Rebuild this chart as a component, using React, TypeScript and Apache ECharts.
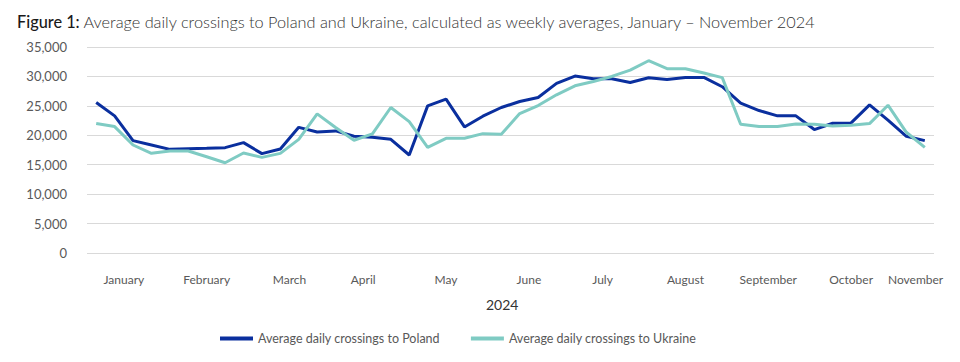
import React, { useEffect, useRef } from "react";
import * as echarts from "echarts";

const months = ["January", "February", "March", "April", "May", "June", "July", "August", "September", "October", "November"];
const weeksPerMonth = [4, 5, 4, 4, 5, 4, 4, 5, 4, 5, 2];

const poland = [
  25570, 23300, 19090, 18350, 17610, 17730, 17780, 17900, 18750, 16880,
  17670, 21350, 20570, 20740, 19830, 19660, 19320, 16650, 25000, 26140,
  21420, 23240, 24720, 25740, 26420, 28810, 30060, 29600, 29600, 28980,
  29770, 29490, 29830, 29830, 28250, 25450, 24200, 23300, 23300, 20970,
  22050, 22100, 25170, 22560, 19830, 19090,
];
const ukraine = [
  21990, 21480, 18350, 16930, 17330, 17330, 16360, 15340, 16990, 16250,
  16930, 19300, 23640, 21310, 19150, 20230, 24720, 22330, 17950, 19490,
  19490, 20280, 20170, 23690, 25060, 26880, 28410, 29150, 30000, 31080,
  32670, 31310, 31310, 30570, 29800, 21880, 21480, 21480, 21930, 21880,
  21590, 21700, 21990, 25110, 20510, 17950,
];
const weeks = poland.map((_, i) => "Week " + (i + 1));
const yearLabel = "2024";
const seriesNames = ["Average daily crossings to Poland", "Average daily crossings to Ukraine"];
const titleLead = "Figure 1:";
const titleRest = " Average daily crossings to Poland and Ukraine, calculated as weekly averages, January \u2013 November 2024";

// half-week boundary axis: month label centered on its group of weeks
const monthSlots: string[] = new Array(weeks.length * 2 + 1).fill("");
{
  let start = 0;
  months.forEach((m, i) => {
    const n = weeksPerMonth[i];
    monthSlots[2 * start + n] = m;
    start += n;
  });
}

const FONT = "Lato, 'Open Sans', sans-serif";

export default function App() {
  const ref = useRef<HTMLDivElement>(null);
  useEffect(() => {
    document.body.style.margin = "0";
    if (!ref.current) return;
    const chart = echarts.init(ref.current, null, { renderer: "svg" });
    chart.setOption({
      animation: false,
      backgroundColor: "#ffffff",
      textStyle: { fontFamily: FONT },
      title: {
        left: 12,
        top: 8,
        text: "{a|" + titleLead + "}{b|" + titleRest + "}",
        textStyle: {
          rich: {
            a: { fontFamily: FONT, fontSize: 16.3, fontWeight: 500, color: "#1a1a1a" },
            b: { fontFamily: FONT, fontSize: 16.3, fontWeight: 300, color: "#333333" },
          },
        },
      },
      legend: {
        left: 215,
        top: 327,
        itemGap: 31,
        itemWidth: 33,
        itemHeight: 4,
        icon: "rect",
        textStyle: { fontFamily: FONT, fontSize: 12.5, color: "#595959" },
        data: seriesNames,
      },
      grid: { left: 87, right: 26, top: 47, bottom: 109, containLabel: false },
      xAxis: [
        {
          type: "category",
          data: weeks,
          boundaryGap: true,
          axisLine: { show: false },
          axisTick: { show: false },
          axisLabel: { show: false },
        },
        {
          type: "category",
          data: monthSlots,
          boundaryGap: false,
          position: "bottom",
          axisLine: { show: false },
          axisTick: { show: false },
          axisLabel: {
            interval: 0,
            margin: 20,
            fontFamily: FONT,
            fontSize: 12,
            color: "#595959",
          },
          splitLine: { show: false },
        },
      ],
      yAxis: {
        type: "value",
        min: 0,
        max: 35000,
        interval: 5000,
        axisLine: { show: false },
        axisTick: { show: false },
        axisLabel: {
          margin: 20,
          fontFamily: FONT,
          fontSize: 13,
          color: "#595959",
          formatter: (v: number) => v.toLocaleString("en-US"),
        },
        splitLine: { lineStyle: { color: "#d9d9d9", width: 1 } },
      },
      graphic: [
        {
          type: "text",
          left: 486,
          top: 297,
          style: { text: yearLabel, font: "14px " + FONT, fill: "#333333" },
        },
      ],
      series: [
        {
          name: seriesNames[0],
          type: "line",
          xAxisIndex: 0,
          data: poland,
          symbol: "none",
          lineStyle: { color: "#0a2f9e", width: 3 },
          itemStyle: { color: "#0a2f9e" },
        },
        {
          name: seriesNames[1],
          type: "line",
          xAxisIndex: 0,
          data: ukraine,
          symbol: "none",
          lineStyle: { color: "#7fcbc3", width: 3 },
          itemStyle: { color: "#7fcbc3" },
        },
      ],
    });
    return () => chart.dispose();
  }, []);
  return <div ref={ref} style={{ width: 960, height: 362 }} />;
}
